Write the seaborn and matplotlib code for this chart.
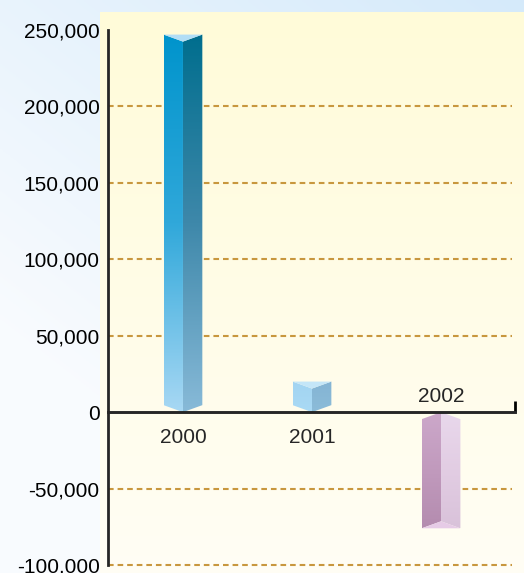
import numpy as np
import matplotlib
matplotlib.use("Agg")
import matplotlib.pyplot as plt
from matplotlib.patches import Polygon
import seaborn as sns

# data
years = ["2000", "2001", "2002"]
values = [247000, 20000, -76000]
y_ticks = [-100000, -50000, 0, 50000, 100000, 150000, 200000, 250000]

# face colours: (left far end, left mid, left base, right far, right mid, right base, cap)
bar_colors = [
    ("#0094cc", "#30a8da", "#a8d8f4", "#006e8e", "#3e88aa", "#88bad8", "#b2def6"),
    ("#a2d4f2", "#a6d7f3", "#aadaf5", "#84b4d4", "#88b8d6", "#8cbcd9", "#c4e6f8"),
    ("#b48caf", "#c19abd", "#cca8ca", "#d9c2da", "#e2cde3", "#e9d8ec", "#e6cbe6"),
]

sns.set_style("white")
plt.rcParams['font.family'] = ['Liberation Sans', 'DejaVu Sans']

W, H = 524, 573
fig = plt.figure(figsize=(W / 100, H / 100), dpi=100)

# figure background: light blue wash
bg = fig.add_axes([0, 0, 1, 1], zorder=0)
gx, gy = np.meshgrid(np.linspace(0, 1, 200), np.linspace(0, 1, 200))
t = np.clip(0.5 * gx + 0.7 * gy - 0.3, 0, 1)[..., None]
c_light = np.array([0.975, 0.985, 0.997])
c_blue = np.array([0.82, 0.91, 0.98])
bg.imshow(c_light + (c_blue - c_light) * t, origin="lower", extent=(0, 1, 0, 1), aspect="auto")
bg.axis("off")

ax = fig.add_axes([100 / W, 0, 424 / W, 561 / H], zorder=1)
ax.patch.set_facecolor("none")

# plot area: cream fading to white downwards
ry = np.linspace(0, 1, 200)[:, None, None]
c_top = np.array([1.0, 0.985, 0.85])
c_bot = np.array([1.0, 0.995, 0.96])
ax.imshow(np.repeat(c_bot + (c_top - c_bot) * ry, 2, axis=1), origin="lower",
          extent=(0, 1, 0, 1), transform=ax.transAxes, aspect="auto", zorder=0)

sns.barplot(x=years, y=values, width=0.3, ax=ax)

ymin, ymax = -105234, 261776
ax.set_xlim(-0.643, 2.643)
ax.set_ylim(ymin, ymax)
d = 7 * (ymax - ymin) / 561  # prism depth in data units (~7 px)


def hexrgb(h):
    return np.array([int(h[i:i + 2], 16) / 255 for i in (1, 3, 5)])


for p, cols in zip(list(ax.patches), bar_colors):
    p.set_visible(False)
    x0, w, v = p.get_x(), p.get_width(), p.get_height()
    xc, x1 = x0 + w / 2, x0 + w
    s = np.sign(v)
    lo, hi = min(0, v), max(0, v)
    ys = np.linspace(lo, hi, 300)
    frac = np.abs(ys) / abs(v)  # 0 at base, 1 at far end
    faces = [
        ([(x0, v), (xc, v - s * d), (xc, 0), (x0, s * d)], cols[0], cols[1], cols[2], (x0, xc)),
        ([(xc, v - s * d), (x1, v), (x1, s * d), (xc, 0)], cols[3], cols[4], cols[5], (xc, x1)),
    ]
    for verts, far, mid, base, (ea, eb) in faces:
        far, mid, base = hexrgb(far), hexrgb(mid), hexrgb(base)
        f = frac[:, None]
        rgb = np.where(f > 0.5, mid + (far - mid) * (f - 0.5) * 2, base + (mid - base) * f * 2)
        poly = Polygon(verts, closed=True, facecolor="none", edgecolor="none")
        ax.add_patch(poly)
        im = ax.imshow(rgb[:, None, :], origin="lower", extent=(ea, eb, lo, hi),
                       aspect="auto", zorder=3)
        im.set_clip_path(poly)
    ax.add_patch(Polygon([(x0, v), (x1, v), (xc, v - s * d)], closed=True,
                         facecolor=cols[6], edgecolor="none", zorder=4))

# gridlines
grid_vals = [yv for yv in y_ticks if yv not in (0, y_ticks[-1])]
ax.hlines(grid_vals, -0.58, 2.55, colors="#c8973e", linewidth=1.5,
          linestyles=(0, (2.7, 1.9)), zorder=2)

for side in ("top", "right"):
    ax.spines[side].set_visible(False)
ax.spines["left"].set_position(("axes", 0.019))
ax.spines["left"].set_bounds(y_ticks[0], y_ticks[-1])
ax.spines["left"].set_linewidth(2)
ax.spines["left"].set_zorder(5)
ax.spines["bottom"].set_position(("data", 0))
ax.spines["bottom"].set_bounds(-0.58, 2.574)
ax.spines["bottom"].set_linewidth(2.1)
ax.spines["bottom"].set_zorder(5)
ax.plot([2.574, 2.574], [0, 7500], color="black", linewidth=2, zorder=5,
        solid_capstyle="butt")

ax.set_ylim(ymin, ymax)
ax.set_xlim(-0.643, 2.643)
ax.set_yticks(y_ticks)
ax.set_yticklabels([f"{yv:,}" for yv in y_ticks])
ax.tick_params(axis="y", length=0, pad=6, labelsize=15, labelcolor="black")
ax.set_xticks([])

# category labels: below the axis for positive bars, above for negative
for i, (yr, v) in enumerate(zip(years, values)):
    off = -18 if v >= 0 else 11
    ax.annotate(yr, (i, 0), xytext=(0, off), textcoords="offset points",
                ha="center", va="center", fontsize=15, zorder=6)

fig.savefig("out.png", dpi=100)
